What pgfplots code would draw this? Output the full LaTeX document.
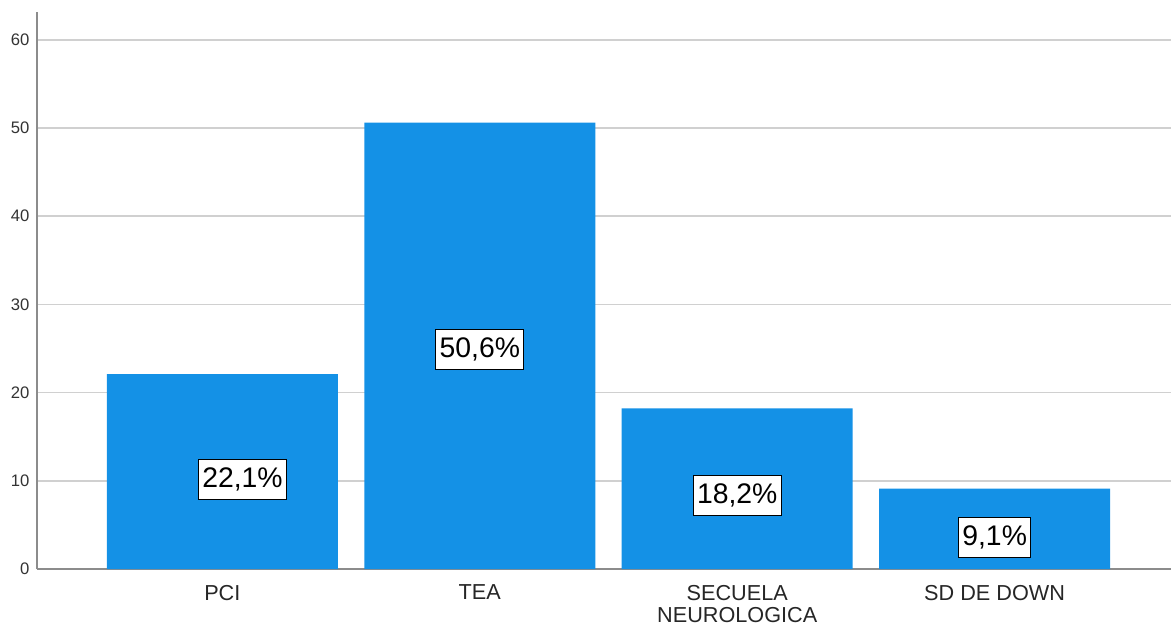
\documentclass[border=0pt]{standalone}
\usepackage{fontspec}
\setmainfont{Liberation Sans}
\usepackage{pgfplots}
\usepackage{pgfplotstable}
\pgfplotsset{compat=1.18}
\definecolor{barblue}{RGB}{20,145,230}
\definecolor{gridgrey}{RGB}{208,208,208}
\definecolor{axisgrey}{RGB}{140,140,140}
\pgfplotstableread{
x v
0 22.1
1 50.6
2 18.2
3 9.1
}\datatable
\pgfplotstableread[col sep=comma]{
x,y,lab
0.078,10.15,{22,1\%}
1,24.9,{50,6\%}
2,8.3,{18,2\%}
3,3.6,{9,1\%}
}\labtable
\begin{document}
\begin{tikzpicture}
\begin{axis}[
  name=ax,
  at={(0,0)}, anchor=south west,
  scale only axis,
  width=680.4pt, height=334.2pt,
  xmin=-0.72, xmax=3.685,
  ymin=0, ymax=63.15,
  axis x line*=bottom, axis y line*=left,
  axis line style={axisgrey, line width=0.9pt},
  xtick={0,1,2,3},
  xticklabels={PCI,TEA,{SECUELA\\NEUROLOGICA},SD DE DOWN},
  xticklabel style={align=center, font=\fontsize{13}{13.4}\selectfont, text=black!85, yshift=-6pt},
  ytick={0,10,20,30,40,50,60},
  yticklabel style={font=\fontsize{10}{12}\selectfont, text=black!80, xshift=-1pt},
  major tick length=0pt,
  ymajorgrids,
  grid style={gridgrey, line width=1pt},
  /pgf/number format/assume math mode=true,
]
\addplot[ybar, bar width=138.6pt, fill=barblue, draw=none] table[x=x, y=v] {\datatable};
\addplot[draw=none, mark=none, nodes near coords, point meta=explicit symbolic,
  every node near coord/.style={anchor=center, fill=white, draw=black, line width=0.6pt,
    inner xsep=2.3pt, inner ysep=5pt, font=\fontsize{17}{20}\selectfont}]
  table[x=x, y=y, meta=lab, col sep=comma] {\labtable};
\end{axis}
\pgfresetboundingbox
\path[use as bounding box] (-22.2pt,-34.2pt) rectangle (680.4pt,341.4pt);
\end{tikzpicture}
\end{document}
